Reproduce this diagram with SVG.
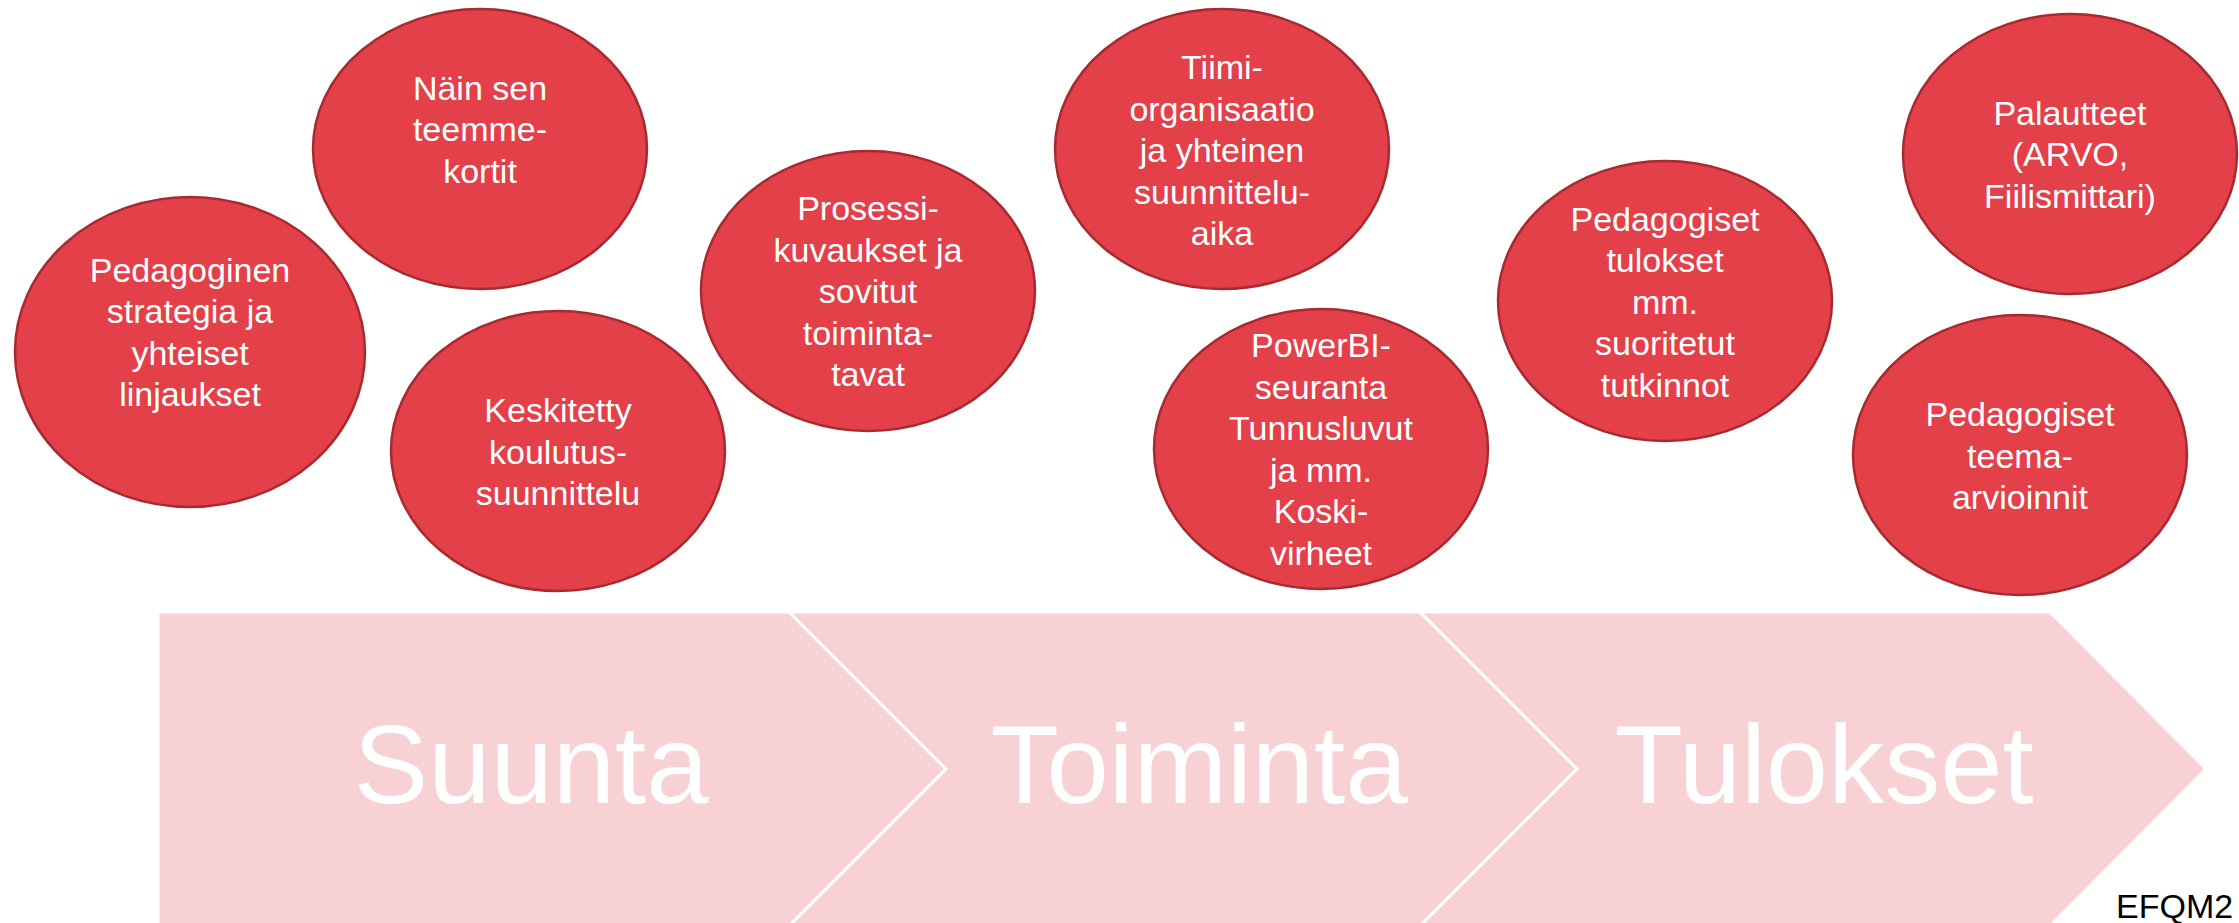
<svg xmlns="http://www.w3.org/2000/svg" width="2239" height="923" viewBox="0 0 2239 923">
<style>
.bg{fill:#ffffff}
.chev{fill:#F7D1D3;stroke:#ffffff;stroke-width:3;stroke-linejoin:miter}
.big{font-family:"Liberation Sans",Arial,sans-serif;font-size:112px;fill:#ffffff;text-anchor:middle}
.node ellipse{fill:#E3404A;stroke:#A8292F;stroke-width:2.5}
.node text{font-family:"Liberation Sans",Arial,sans-serif;font-size:34px;fill:#ffffff;text-anchor:middle}
.note{font-family:"Liberation Sans",Arial,sans-serif;font-size:34px;fill:#000000}
</style>
<rect class="bg" x="0" y="0" width="2239" height="923"/>
<g id="process">
  <g id="chevron-suunta">
    <polygon class="chev" points="158,612 789,612 946,769 789,926 158,926"/>
    <text class="big" x="531" y="803">Suunta</text>
  </g>
  <g id="chevron-toiminta">
    <polygon class="chev" points="789,612 1420,612 1577,769 1420,926 789,926 946,769"/>
    <text class="big" x="1199" y="803">Toiminta</text>
  </g>
  <g id="chevron-tulokset">
    <polygon class="chev" points="1420,612 2050,612 2206,769 2050,926 1420,926 1577,769"/>
    <text class="big" x="1824" y="803">Tulokset</text>
  </g>
</g>
<g id="connectors"></g>
<g id="n1" class="node">
  <ellipse cx="190" cy="352" rx="175" ry="155"/>
  <text x="190" y="281.5">Pedagoginen</text>
  <text x="190" y="323">strategia ja</text>
  <text x="190" y="364.5">yhteiset</text>
  <text x="190" y="406">linjaukset</text>
</g>
<g id="n2" class="node">
  <ellipse cx="480" cy="149" rx="167" ry="140"/>
  <text x="480" y="99.6">Näin sen</text>
  <text x="480" y="141.2">teemme-</text>
  <text x="480" y="182.7">kortit</text>
</g>
<g id="n3" class="node">
  <ellipse cx="558" cy="451" rx="167" ry="140"/>
  <text x="558" y="422.3">Keskitetty</text>
  <text x="558" y="463.8">koulutus-</text>
  <text x="558" y="505.3">suunnittelu</text>
</g>
<g id="n4" class="node">
  <ellipse cx="868" cy="291" rx="167" ry="140"/>
  <text x="868" y="220.2">Prosessi-</text>
  <text x="868" y="261.8">kuvaukset ja</text>
  <text x="868" y="303.3">sovitut</text>
  <text x="868" y="344.8">toiminta-</text>
  <text x="868" y="386.3">tavat</text>
</g>
<g id="n5" class="node">
  <ellipse cx="1222" cy="149" rx="167" ry="140"/>
  <text x="1222" y="79">Tiimi-</text>
  <text x="1222" y="120.6">organisaatio</text>
  <text x="1222" y="162.1">ja yhteinen</text>
  <text x="1222" y="203.6">suunnittelu-</text>
  <text x="1222" y="245.2">aika</text>
</g>
<g id="n6" class="node">
  <ellipse cx="1321" cy="449" rx="167" ry="140"/>
  <text x="1321" y="357">PowerBI-</text>
  <text x="1321" y="398.6">seuranta</text>
  <text x="1321" y="440">Tunnusluvut</text>
  <text x="1321" y="481.6">ja mm.</text>
  <text x="1321" y="523">Koski-</text>
  <text x="1321" y="564.6">virheet</text>
</g>
<g id="n7" class="node">
  <ellipse cx="1665" cy="301" rx="167" ry="140"/>
  <text x="1665" y="230.5">Pedagogiset</text>
  <text x="1665" y="272">tulokset</text>
  <text x="1665" y="313.6">mm.</text>
  <text x="1665" y="355">suoritetut</text>
  <text x="1665" y="396.6">tutkinnot</text>
</g>
<g id="n8" class="node">
  <ellipse cx="2070" cy="154" rx="167" ry="140"/>
  <text x="2070" y="124.6">Palautteet</text>
  <text x="2070" y="166">(ARVO,</text>
  <text x="2070" y="207.6">Fiilismittari)</text>
</g>
<g id="n9" class="node">
  <ellipse cx="2020" cy="455" rx="167" ry="140"/>
  <text x="2020" y="426">Pedagogiset</text>
  <text x="2020" y="467.8">teema-</text>
  <text x="2020" y="509.3">arvioinnit</text>
</g>
<text class="note" x="2116" y="918">EFQM2</text>
</svg>
